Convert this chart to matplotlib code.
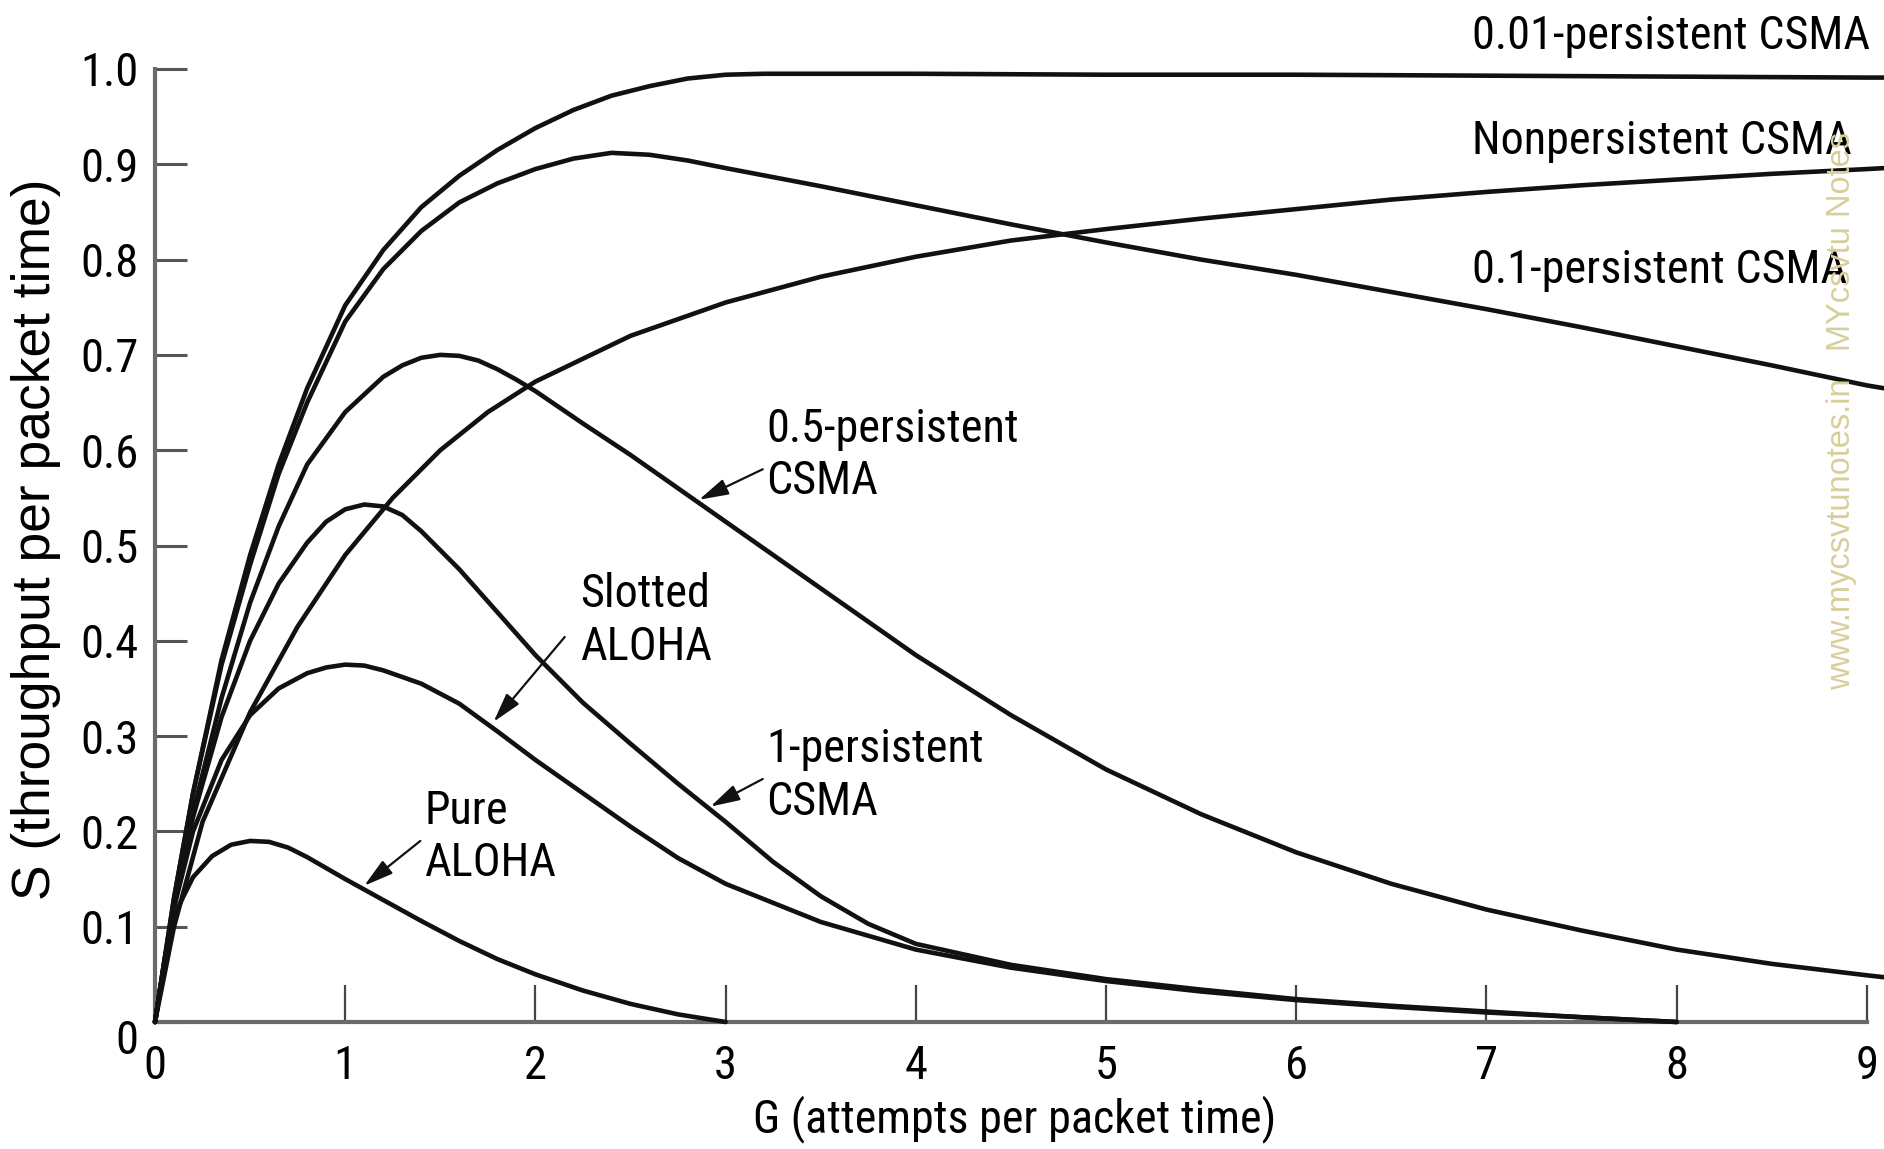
import matplotlib
matplotlib.use("Agg")
import matplotlib.pyplot as plt
import matplotlib.transforms as mtransforms
from matplotlib import font_manager as fm

# Pure ALOHA
pure_g = [0, 0.05, 0.1, 0.2, 0.3, 0.4, 0.5, 0.6, 0.7, 0.8, 1.0, 1.2, 1.4, 1.6, 1.8, 2.0, 2.25, 2.5, 2.75, 3.0]
pure_s = [0, 0.065, 0.112, 0.152, 0.174, 0.186, 0.19, 0.189, 0.183, 0.173, 0.15, 0.128, 0.106, 0.085, 0.066, 0.05, 0.033, 0.019, 0.008, 0.0]

# Slotted ALOHA
slot_g = [0, 0.1, 0.2, 0.35, 0.5, 0.65, 0.8, 0.9, 1.0, 1.1, 1.2, 1.4, 1.6, 1.8, 2.0, 2.25, 2.5, 2.75, 3.0,
          3.5, 4.0, 4.5, 5.0, 5.5, 6.0, 6.5, 7.0, 7.5, 8.0]
slot_s = [0, 0.12, 0.2, 0.275, 0.322, 0.35, 0.366, 0.372, 0.375, 0.374, 0.369, 0.355, 0.334, 0.305, 0.275,
          0.24, 0.205, 0.172, 0.145, 0.105, 0.076, 0.057, 0.043, 0.032, 0.023, 0.016, 0.01, 0.005, 0.0]

# 1-persistent CSMA
p1_g = [0, 0.1, 0.2, 0.35, 0.5, 0.65, 0.8, 0.9, 1.0, 1.1, 1.2, 1.3, 1.4, 1.6, 1.8, 2.0, 2.25, 2.5, 2.75, 3.0,
        3.25, 3.5, 3.75, 4.0, 4.5, 5.0, 5.5, 6.0, 6.5, 7.0, 7.5, 8.0]
p1_s = [0, 0.125, 0.215, 0.32, 0.4, 0.46, 0.503, 0.525, 0.538, 0.543, 0.541, 0.532, 0.515, 0.475, 0.43,
        0.385, 0.335, 0.292, 0.25, 0.21, 0.168, 0.132, 0.103, 0.082, 0.06, 0.045, 0.034, 0.024, 0.017,
        0.011, 0.005, 0.0]

# 0.5-persistent CSMA
p05_g = [0, 0.1, 0.2, 0.35, 0.5, 0.65, 0.8, 1.0, 1.2, 1.3, 1.4, 1.5, 1.6, 1.7, 1.8, 1.9, 2.0, 2.25, 2.5,
         2.75, 3.0, 3.5, 4.0, 4.5, 5.0, 5.5, 6.0, 6.5, 7.0, 7.5, 8.0, 8.5, 9.0, 9.09]
p05_s = [0, 0.125, 0.22, 0.34, 0.44, 0.52, 0.585, 0.64, 0.677, 0.689, 0.697, 0.7, 0.699, 0.694, 0.685,
         0.674, 0.662, 0.628, 0.595, 0.56, 0.525, 0.455, 0.385, 0.322, 0.265, 0.218, 0.178, 0.145,
         0.118, 0.096, 0.076, 0.061, 0.049, 0.047]

# 0.1-persistent CSMA
p01_g = [0, 0.1, 0.2, 0.35, 0.5, 0.65, 0.8, 1.0, 1.2, 1.4, 1.6, 1.8, 2.0, 2.2, 2.4, 2.6, 2.8, 3.0,
         3.5, 4.0, 4.5, 5.0, 5.5, 6.0, 6.5, 7.0, 7.5, 8.0, 8.5, 9.0, 9.09]
p01_s = [0, 0.13, 0.24, 0.375, 0.48, 0.575, 0.65, 0.735, 0.79, 0.83, 0.86, 0.88, 0.895, 0.906, 0.912,
         0.91, 0.904, 0.896, 0.877, 0.857, 0.837, 0.818, 0.8, 0.784, 0.766, 0.748, 0.729, 0.709,
         0.689, 0.668, 0.665]

# 0.01-persistent CSMA
p001_g = [0, 0.1, 0.2, 0.35, 0.5, 0.65, 0.8, 1.0, 1.2, 1.4, 1.6, 1.8, 2.0, 2.2, 2.4, 2.6, 2.8, 3.0,
          3.2, 4, 5, 6, 7, 8, 9, 9.09]
p001_s = [0, 0.13, 0.24, 0.38, 0.49, 0.585, 0.665, 0.752, 0.81, 0.855, 0.888, 0.915, 0.938, 0.957,
          0.972, 0.982, 0.99, 0.994, 0.995, 0.995, 0.994, 0.994, 0.993, 0.992, 0.991, 0.991]

# Nonpersistent CSMA
np_g = [0, 0.1, 0.25, 0.5, 0.75, 1.0, 1.25, 1.5, 1.75, 2.0, 2.5, 3.0, 3.5, 4.0, 4.5, 5.0, 5.5, 6.0,
        6.5, 7.0, 7.5, 8.0, 8.5, 9.0, 9.09]
np_s = [0, 0.1, 0.21, 0.325, 0.415, 0.49, 0.55, 0.6, 0.64, 0.672, 0.72, 0.755, 0.782, 0.803, 0.82,
        0.832, 0.843, 0.853, 0.863, 0.871, 0.878, 0.884, 0.89, 0.895, 0.896]

x_ticks = [0, 1, 2, 3, 4, 5, 6, 7, 8, 9]
x_tick_labels = ['0', '1', '2', '3', '4', '5', '6', '7', '8', '9']
y_ticks = [0, 0.1, 0.2, 0.3, 0.4, 0.5, 0.6, 0.7, 0.8, 0.9, 1.0]
y_tick_labels = ['0', '0.1', '0.2', '0.3', '0.4', '0.5', '0.6', '0.7', '0.8', '0.9', '1.0']


# look for a narrow sans face (the original uses a condensed Helvetica)
def find_narrow():
    order = ['Liberation Sans Narrow', 'Roboto Condensed', 'Open Sans Condensed', 'DejaVu Sans',
             'Noto Sans', 'Roboto', 'Open Sans', 'Lato', 'Inter']
    for name in order:
        for f in fm.fontManager.ttflist:
            if f.name != name or f.style != 'normal':
                continue
            if f.weight not in (400, 'normal', 'regular', 'book'):
                continue
            if 'Narrow' in f.name or 'Condensed' in f.name or f.stretch in ('condensed', 'semi-condensed'):
                return f.fname
    return fm.findfont('Liberation Sans')


narrow_file = find_narrow()
regular_file = fm.findfont('Liberation Sans')

fig = plt.figure(figsize=(18.84, 11.49), dpi=100)
ax = fig.add_axes([155 / 1884, 127 / 1149, 1729 / 1884, 953 / 1149])
renderer = fig.canvas.get_renderer()


def size_for(text, target_px, fname):
    t = fig.text(0, 0, text, fontproperties=fm.FontProperties(fname=fname, size=36))
    w = t.get_window_extent(renderer).width
    t.remove()
    return 36 * target_px / w


fs = size_for('0.5-persistent', 252, narrow_file)
fs_tick = size_for('0.9', 58, narrow_file)
fs_xlab = size_for('G (attempts per packet time)', 523, narrow_file)
fs_ylab = size_for('S (throughput per packet time)', 721, regular_file)

fp = fm.FontProperties(fname=narrow_file, size=fs)
fp_tick = fm.FontProperties(fname=narrow_file, size=fs_tick)

curves = [(pure_g, pure_s), (slot_g, slot_s), (p1_g, p1_s), (p05_g, p05_s),
          (p01_g, p01_s), (p001_g, p001_s), (np_g, np_s)]
for g, s in curves:
    ax.plot(g, s, color='#111111', lw=3.3, solid_joinstyle='round', solid_capstyle='round',
            clip_on=False, zorder=3)

ax.set_xlim(0, 9.09)
ax.set_ylim(0, 1.0)
for side in ['top', 'right']:
    ax.spines[side].set_visible(False)
ax.spines['left'].set_bounds(0, 1.0)
ax.spines['bottom'].set_bounds(0, 9)
for side in ['left', 'bottom']:
    ax.spines[side].set_color('#6a6a6a')
    ax.spines[side].set_linewidth(3)

ax.set_xticks(x_ticks)
ax.set_xticklabels(x_tick_labels, fontproperties=fp_tick)
ax.set_yticks(y_ticks)
ax.set_yticklabels(y_tick_labels, fontproperties=fp_tick)
ax.tick_params(axis='y', direction='in', length=23, width=2.2, color='#555555', pad=12)
ax.tick_params(axis='x', direction='in', length=27, width=1.6, color='#444444', pad=16)

# the "0" on the y axis sits a little lower than its tick
lab0 = ax.get_yticklabels()[0]
lab0.set_transform(lab0.get_transform() +
                   mtransforms.ScaledTranslation(0, -0.14, fig.dpi_scale_trans))

ax.set_xlabel('G (attempts per packet time)',
              fontproperties=fm.FontProperties(fname=narrow_file, size=fs_xlab))
ax.xaxis.set_label_coords(0.497, -0.077)
ax.set_ylabel('S (throughput per packet time)',
              fontproperties=fm.FontProperties(fname=regular_file, size=fs_ylab))
ax.yaxis.label.set_va('center')
ax.yaxis.set_label_coords(-0.069, 0.506)

# right side labels
ax.text(6.925, 1.035, '0.01-persistent CSMA', fontproperties=fp, ha='left', va='center', clip_on=False)
ax.text(6.925, 0.924, 'Nonpersistent CSMA', fontproperties=fp, ha='left', va='center')
ax.text(6.925, 0.789, '0.1-persistent CSMA', fontproperties=fp, ha='left', va='center')

arrow = dict(arrowstyle='-|>,head_length=0.9,head_width=0.25', color='#111111', lw=1.6,
             shrinkA=0, shrinkB=0, mutation_scale=20)
ax.text(3.215, 0.595, '0.5-persistent\nCSMA', fontproperties=fp, ha='left', va='center', linespacing=1.25)
ax.annotate('', xy=(2.86, 0.548), xytext=(3.195, 0.58), arrowprops=arrow)

ax.text(2.235, 0.421, 'Slotted\nALOHA', fontproperties=fp, ha='left', va='center', linespacing=1.25)
ax.annotate('', xy=(1.78, 0.315), xytext=(2.154, 0.404), arrowprops=arrow)

ax.text(3.215, 0.259, '1-persistent\nCSMA', fontproperties=fp, ha='left', va='center', linespacing=1.25)
ax.annotate('', xy=(2.92, 0.226), xytext=(3.195, 0.255), arrowprops=arrow)

ax.text(1.415, 0.194, 'Pure\nALOHA', fontproperties=fp, ha='left', va='center', linespacing=1.25)
ax.annotate('', xy=(1.1, 0.143), xytext=(1.395, 0.19), arrowprops=arrow)

# watermark
fig.text(0.9777, 0.642, 'www.mycsvtunotes.in   MYcsvtu Notes', rotation=90, ha='center', va='center',
         fontsize=23.5, color='#d6cf9a', family=['Liberation Sans', 'DejaVu Sans'], zorder=10)

fig.savefig('out.png', dpi=100, facecolor='white')
